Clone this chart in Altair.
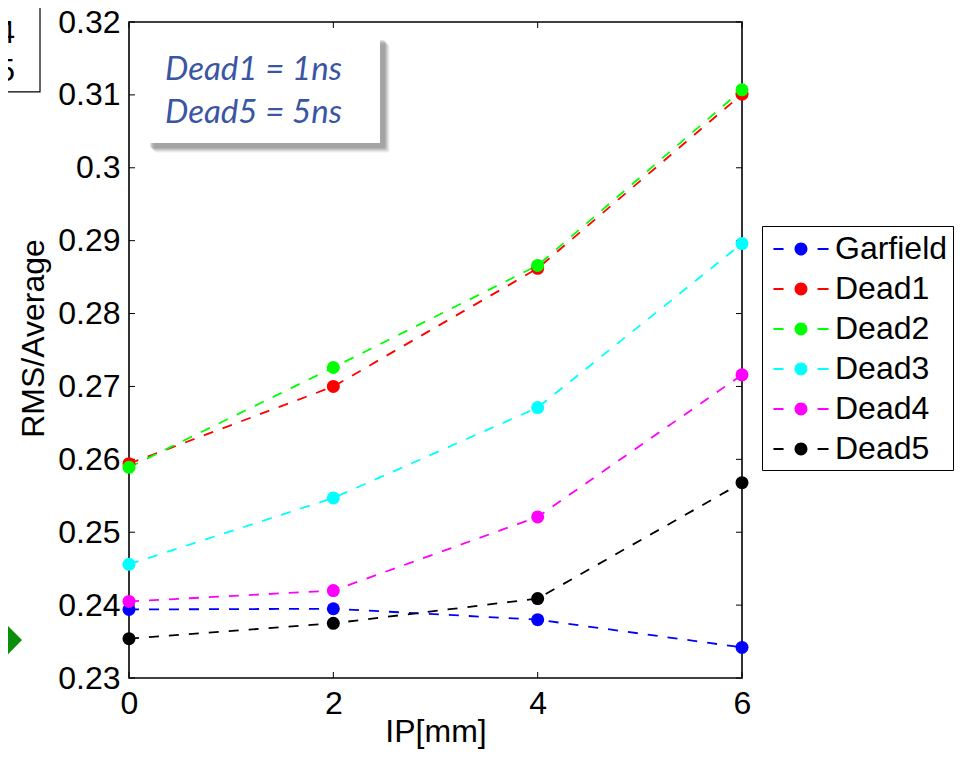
import altair as alt
import pandas as pd

# ---------------- data ----------------
ip = [0, 2, 4, 6]
series_names = ["Garfield", "Dead1", "Dead2", "Dead3", "Dead4", "Dead5"]
series_colors = ["#0000ff", "#ff0000", "#00ff00", "#00ffff", "#ff00ff", "#000000"]
garfield = [0.2394, 0.2395, 0.2380, 0.2342]
dead1 = [0.2594, 0.2700, 0.2862, 0.3101]
dead2 = [0.2589, 0.2726, 0.2866, 0.3107]
dead3 = [0.2456, 0.2547, 0.2671, 0.2896]
dead4 = [0.2405, 0.2420, 0.2521, 0.2716]
dead5 = [0.2354, 0.2375, 0.2409, 0.2568]
all_series = [garfield, dead1, dead2, dead3, dead4, dead5]

y_ticks = [0.23, 0.24, 0.25, 0.26, 0.27, 0.28, 0.29, 0.30, 0.31, 0.32]
x_ticks = [0, 2, 4, 6]

note_lines = ["Dead1 = 1ns", "Dead5 = 5ns"]
note_line_y = [0.31341, 0.30752]
note_x = 0.352
note_box_x = [0.157, 2.457]
note_box_y = [0.3034, 0.31822]

# cropped fragments at the slide edge
frag_box_x = [-1.6, -0.871]
frag_box_y = [0.3104, 0.335]
frag_labels = ["4", "5"]
frag_label_y = [0.31849, 0.31328]
frag_label_x = -1.116
arrow_x = [-1.31, -1.047]
arrow_top = [0.2389, 0.2352]
arrow_bottom = [0.2315, 0.2352]

FONT = "Liberation Sans"
W, H = 613, 656

rows = []
for name, vals in zip(series_names, all_series):
    for x, v in zip(ip, vals):
        rows.append({"IP": x, "val": v, "series": name})
df = pd.DataFrame(rows)

xs = alt.Scale(domain=[0, 6], nice=False, zero=False)
ys = alt.Scale(domain=[0.23, 0.32], nice=False, zero=False)
cs = alt.Scale(domain=series_names, range=series_colors)

LEG_PATH = ("M-1.53,-0.06H-0.97V0.06H-1.53Z "
            "M0.92,-0.06H1.53V0.06H0.92Z "
            "M-0.36,0A0.36,0.36,0,1,0,0.36,0A0.36,0.36,0,1,0,-0.36,0Z")

legend = alt.Legend(title=None, orient="none", legendX=633, legendY=204,
                    symbolType=LEG_PATH, symbolSize=1296,
                    symbolStrokeWidth=0, symbolOpacity=1,
                    labelFont=FONT, labelFontSize=32, labelColor="black",
                    labelLimit=400, padding=5, symbolOffset=16,
                    labelOffset=16, rowPadding=6,
                    strokeColor="black", fillColor="white")

x_enc = alt.X("IP:Q", scale=xs, title="IP[mm]",
              axis=alt.Axis(values=x_ticks, ticks=False, domain=False, grid=False,
                            format="~g", labelFlush=False,
                            labelFont=FONT, labelFontSize=32, labelColor="black",
                            labelPadding=10, titleFont=FONT, titleFontSize=32,
                            titleFontWeight="normal", titleColor="black",
                            titleBaseline="alphabetic", titleY=63))
y_enc = alt.Y("val:Q", scale=ys, title="RMS/Average",
              axis=alt.Axis(values=y_ticks, ticks=False, domain=False, grid=False,
                            format=".2~f", labelFlush=False,
                            labelFont=FONT, labelFontSize=32, labelColor="black",
                            labelPadding=9, titleFont=FONT, titleFontSize=32,
                            titleFontWeight="normal", titleColor="black",
                            titleBaseline="alphabetic", titleX=-86, titleY=316,
                            titleAngle=270))

lines = alt.Chart(df).mark_line(strokeDash=[10, 10], strokeWidth=1.8).encode(
    x=x_enc, y=y_enc,
    color=alt.Color("series:N", scale=cs, sort=series_names, legend=legend),
    detail="series:N",
)

points = alt.Chart(df).mark_point(filled=True, size=169, opacity=1, shape="circle").encode(
    x=alt.X("IP:Q", scale=xs),
    y=alt.Y("val:Q", scale=ys),
    color=alt.Color("series:N", scale=cs, sort=series_names, legend=legend),
)

# inward ticks (MATLAB style)
yt = pd.DataFrame({"t": y_ticks})
xt = pd.DataFrame({"t": x_ticks})
ytick_l = alt.Chart(yt).mark_rule(color="black", strokeWidth=1).encode(
    y=alt.Y("t:Q", scale=ys), x=alt.value(0), x2=alt.value(6))
ytick_r = alt.Chart(yt).mark_rule(color="black", strokeWidth=1).encode(
    y=alt.Y("t:Q", scale=ys), x=alt.value(W - 6), x2=alt.value(W))
xtick_b = alt.Chart(xt).mark_rule(color="black", strokeWidth=1).encode(
    x=alt.X("t:Q", scale=xs), y=alt.value(H - 6), y2=alt.value(H))
xtick_t = alt.Chart(xt).mark_rule(color="black", strokeWidth=1).encode(
    x=alt.X("t:Q", scale=xs), y=alt.value(0), y2=alt.value(6))

# annotation box
box_df = pd.DataFrame({"x": [note_box_x[0]], "x2": [note_box_x[1]],
                       "y": [note_box_y[0]], "y2": [note_box_y[1]]})
shadows = []
for off, op in [(10, 0.06), (9, 0.10), (8, 0.14), (7, 0.18), (6, 0.2), (5, 0.2)]:
    shadows.append(alt.Chart(box_df).mark_rect(color="#707070", opacity=op,
                                               xOffset=off, x2Offset=off,
                                               yOffset=off, y2Offset=off,
                                               cornerRadius=2).encode(
        x=alt.X("x:Q", scale=xs), x2="x2:Q", y=alt.Y("y:Q", scale=ys), y2="y2:Q"))
box = alt.Chart(box_df).mark_rect(color="white", opacity=1).encode(
    x=alt.X("x:Q", scale=xs), x2="x2:Q", y=alt.Y("y:Q", scale=ys), y2="y2:Q")
note_df = pd.DataFrame({"x": [note_x] * 2, "y": note_line_y, "t": note_lines})
note = alt.Chart(note_df).mark_text(font="Lato", fontSize=33, fontStyle="italic",
                                    color="#3a55a4", align="left", baseline="middle").encode(
    x=alt.X("x:Q", scale=xs), y=alt.Y("y:Q", scale=ys), text="t:N")

# slide fragments
fbox_df = pd.DataFrame({"x": [frag_box_x[0]], "x2": [frag_box_x[1]],
                        "y": [frag_box_y[0]], "y2": [frag_box_y[1]]})
fbox = alt.Chart(fbox_df).mark_rect(fill="white", stroke="black", strokeWidth=1.2).encode(
    x=alt.X("x:Q", scale=xs), x2="x2:Q", y=alt.Y("y:Q", scale=ys), y2="y2:Q")
flab_df = pd.DataFrame({"x": [frag_label_x] * 2, "y": frag_label_y, "t": frag_labels})
flab = alt.Chart(flab_df).mark_text(font=FONT, fontSize=32, color="black",
                                    align="right", baseline="middle").encode(
    x=alt.X("x:Q", scale=xs), y=alt.Y("y:Q", scale=ys), text="t:N")
arrow_df = pd.DataFrame({"x": arrow_x, "y": arrow_top, "y2": arrow_bottom})
arrow = alt.Chart(arrow_df).mark_area(color="#0a8f0a", opacity=1).encode(
    x=alt.X("x:Q", scale=xs), y=alt.Y("y:Q", scale=ys), y2="y2:Q")

chart = alt.layer(
    fbox, flab, arrow,
    *shadows, box, note,
    ytick_l, ytick_r, xtick_b, xtick_t,
    lines, points,
).properties(
    width=W, height=H,
    autosize=alt.AutoSizeParams(type="none"),
    padding={"left": 121, "top": 14, "right": 212, "bottom": 71},
    background="white",
).configure_view(stroke="black", strokeWidth=1.6)

chart.save("out.html", embed_options={"renderer": "svg", "actions": False})
